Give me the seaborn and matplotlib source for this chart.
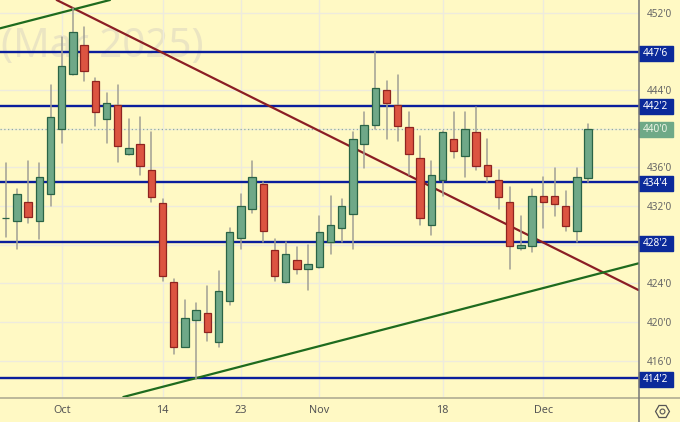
import matplotlib
matplotlib.use('Agg')  # non-GUI backend
import matplotlib.pyplot as plt
from matplotlib.lines import Line2D
from matplotlib.patches import Rectangle
from matplotlib.transforms import blended_transform_factory
import pandas as pd
import seaborn as sns

opens = [430.77, 430.49, 432.45, 430.49, 433.22, 439.94, 445.69, 448.69, 444.93, 440.97,
         442.48, 437.42, 438.45, 435.73, 432.29, 424.18, 417.43, 420.25, 420.97, 417.97,
         422.21, 428.67, 431.67, 434.25, 427.46, 424.18, 426.42, 425.46, 425.67, 428.25,
         429.70, 431.21, 438.45, 440.41, 443.97, 442.48, 440.21, 436.94, 430.01, 434.70,
         438.90, 437.21, 439.66, 436.22, 434.70, 432.42, 427.70, 427.90, 433.01, 433.01,
         431.98, 429.42, 434.93]
highs = [436.49, 433.77, 436.69, 436.49, 444.49, 449.45, 452.45, 450.49, 445.21, 443.72,
         444.49, 441.00, 441.21, 439.69, 432.73, 424.49, 422.29, 421.95, 423.73, 425.29,
         429.70, 433.25, 436.69, 434.52, 428.56, 428.25, 427.77, 427.94, 430.97, 433.04,
         432.73, 439.69, 441.76, 447.93, 444.93, 445.52, 441.76, 439.25, 436.69, 439.79,
         441.76, 441.76, 442.28, 438.94, 435.76, 433.97, 430.97, 433.80, 435.01, 435.94,
         433.53, 435.94, 440.49]
lows = [428.77, 427.53, 430.28, 428.56, 432.04, 438.49, 445.60, 444.96, 440.28, 438.49,
        436.53, 437.28, 435.21, 432.45, 424.25, 416.73, 417.40, 414.12, 418.05, 417.46,
        421.77, 427.53, 431.31, 428.32, 424.25, 424.08, 425.01, 423.32, 425.56, 427.08,
        428.32, 427.53, 435.97, 439.97, 438.97, 438.76, 435.21, 430.07, 429.04, 433.04,
        437.00, 435.04, 435.73, 434.52, 431.73, 425.52, 427.46, 427.22, 429.73, 430.97,
        429.45, 428.32, 434.46]
closes = [430.77, 433.22, 430.90, 434.98, 441.18, 446.45, 449.97, 445.94, 441.73, 442.66,
          438.18, 437.97, 436.18, 432.97, 424.74, 417.43, 420.43, 421.22, 418.95, 423.25,
          429.29, 431.98, 434.98, 429.42, 424.74, 427.01, 425.49, 425.98, 429.29, 430.01,
          431.98, 438.90, 440.41, 444.18, 442.69, 440.25, 437.42, 430.74, 435.18, 439.66,
          437.70, 439.94, 436.18, 435.14, 432.97, 427.90, 427.97, 433.01, 432.42, 432.25,
          429.97, 434.98, 439.94]

# horizontal levels and their labels on the price scale
levels = [447.90, 442.35, 434.46, 428.26, 414.19]
level_labels = ["447'6", "442'2", "434'4", "428'2", "414'2"]
last_price = 439.95
last_label = "440'0"

grid_prices = [452, 448, 444, 440, 436, 432, 428, 424, 420, 416]
grid_labels = ["452'0", "", "444'0", "", "436'0", "432'0", "", "424'0", "420'0", "416'0"]

date_ticks = [5, 14, 21, 28, 39, 48]
date_labels = ["Oct", "14", "23", "Nov", "18", "Dec"]

# trend lines, (bar index, price) at both ends
red_x, red_y = [4.55, 56.5], [453.31, 423.32]
green_x, green_y = [10.5, 56.5], [412.26, 426.08]
upper_x, upper_y = [-0.51, 9.31], [450.38, 453.31]

BG = "#FFF9C4"
GRID = "#EEEBDD"
BLUE = "#0A1E9C"

sns.set_theme(style="white")
plt.rcParams['font.family'] = ['Noto Sans', 'DejaVu Sans']

df = pd.DataFrame({"i": range(len(opens)), "open": opens, "high": highs, "low": lows, "close": closes})
df["up"] = df["close"] >= df["open"]
wicks = df.melt(id_vars="i", value_vars=["high", "low"], value_name="price")

fig = plt.figure(figsize=(6.8, 4.22), dpi=100, facecolor=BG)
ax = fig.add_axes([0, 25 / 422, 638.5 / 680, 397 / 422], facecolor=BG)

ax.text(-0.45, 448.45, "(Mar 2025)", fontsize=29, color="#EBE5C2", va="center", ha="left", zorder=0.5)

for p in levels:
    ax.axhline(p, color=BLUE, lw=1.7, zorder=1.5)
ax.axhline(last_price, color="#8FAF9A", lw=0.9, ls=(0, (1, 2)), zorder=1.5)

sns.lineplot(x=red_x, y=red_y, color="#8B1E24", lw=1.6, ax=ax, zorder=2)
sns.lineplot(x=green_x, y=green_y, color="#1E6B1E", lw=1.6, ax=ax, zorder=2)
sns.lineplot(x=upper_x, y=upper_y, color="#1E6B1E", lw=1.6, ax=ax, zorder=2)

sns.lineplot(data=wicks, x="i", y="price", units="i", estimator=None, color="#A0A094",
             lw=1.1, ax=ax, zorder=3, legend=False)

for up, fill, edge in [(True, "#6FA888", "#2A6446"), (False, "#DC5441", "#8F2420")]:
    part = df[df["up"] == up]
    ax.bar(part["i"], part["close"] - part["open"], bottom=part["open"], width=0.66,
           color=fill, edgecolor=edge, linewidth=0.9, zorder=4)

ax.set_xlim(-0.51, 56.5)
ax.set_ylim(412.26, 453.31)
ax.set_xlabel("")
ax.set_ylabel("")
ax.set_xticks(date_ticks, date_labels)
ax.yaxis.tick_right()
ax.set_yticks(grid_prices, grid_labels)
ax.tick_params(axis="x", length=0, pad=6, labelsize=7.8, labelcolor="#555555")
ax.tick_params(axis="y", length=0, pad=6, labelsize=7.2, labelcolor="#666666")
ax.grid(True, color=GRID, lw=1.0, zorder=0)
ax.set_axisbelow(True)
sns.despine(ax=ax, left=True, bottom=True, right=True, top=True)

# boxes on the price scale
trans = blended_transform_factory(ax.transAxes, ax.transData)
box_w = 34 / 638.5
box_h = 15 * 0.1034
for p, lab in zip(levels, level_labels):
    ax.add_patch(Rectangle((1.0, p - box_h / 2 - 0.08), box_w, box_h, transform=trans,
                           color="#0B2A9A", clip_on=False, zorder=5))
    ax.text(1.0 + box_w / 2, p - 0.08, lab, transform=trans, color="white", fontsize=7.2,
            fontweight="bold", ha="center", va="center", clip_on=False, zorder=6)
ax.add_patch(Rectangle((1.0, last_price - box_h / 2), box_w, box_h, transform=trans,
                       color="#6FA987", clip_on=False, zorder=5))
ax.text(1.0 + box_w / 2, last_price, last_label, transform=trans, color="#EEF5E6", fontsize=7.2,
        fontweight="bold", ha="center", va="center", clip_on=False, zorder=6)

# frame and settings icon
fig.add_artist(Line2D([0, 1], [24.5 / 422, 24.5 / 422], color="#A9A68E", lw=1.1))
fig.add_artist(Line2D([638.5 / 680, 638.5 / 680], [0, 1], color="#777777", lw=1.1))
fig.add_artist(Line2D([662.3 / 680], [11 / 422], marker="H", ms=10, mfc="none", mec="#555555", mew=0.9, ls=""))
fig.add_artist(Line2D([662.3 / 680], [11 / 422], marker="o", ms=3.5, mfc="none", mec="#555555", mew=0.8, ls=""))

fig.savefig("out.png", dpi=100, facecolor=BG)
